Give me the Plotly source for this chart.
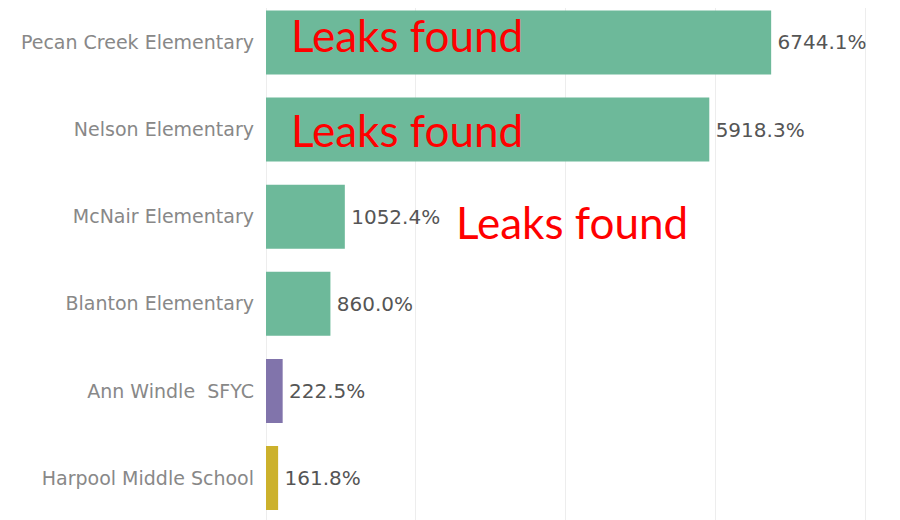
import plotly.graph_objects as go

schools = ["Pecan Creek Elementary", "Nelson Elementary", "McNair Elementary",
           "Blanton Elementary", "Ann Windle  SFYC", "Harpool Middle School"]
values = [6744.1, 5918.3, 1052.4, 860.0, 222.5, 161.8]
value_labels = ["6744.1%", "5918.3%", "1052.4%", "860.0%", "222.5%", "161.8%"]
bar_colors = ["#6db99a", "#6db99a", "#6db99a", "#6db99a", "#8174ab", "#ccb12c"]
note_text = "Leaks found"
note_rows = ["Pecan Creek Elementary", "Nelson Elementary", "McNair Elementary"]
note_x = [305, 305, 2505]
note_shift = [7, 0, -5]

fig = go.Figure(go.Bar(
    y=schools, x=values, orientation="h",
    marker=dict(color=bar_colors, line=dict(width=0)),
    text=value_labels, texttemplate="\u2006%{text}", textposition="outside",
    cliponaxis=False,
    textfont=dict(family="DejaVu Sans", size=20, color="#555555"),
))

for row, xv, ys in zip(note_rows, note_x, note_shift):
    fig.add_annotation(x=xv, y=row, xref="x", yref="y", text=note_text,
                       showarrow=False, xanchor="left", yanchor="middle",
                       yshift=ys,
                       font=dict(family="Lato", size=44, color="#ff0000"))

fig.update_layout(
    width=900, height=520,
    margin=dict(l=258, r=0, t=0, b=0, autoexpand=False),
    plot_bgcolor="white", paper_bgcolor="white",
    bargap=0.265, showlegend=False,
    xaxis=dict(range=[0, 8571], dtick=2000, tick0=0, showticklabels=False,
               automargin=False,
               showgrid=True, gridcolor="#ededed", gridwidth=1,
               zeroline=True, zerolinecolor="#ededed", zerolinewidth=1),
    yaxis=dict(range=[5.574, -0.396], showgrid=False, ticks="", automargin=False,
               ticklabelstandoff=11,
               tickfont=dict(family="DejaVu Sans", size=19, color="#888888")),
)

fig.write_html("out.html")
